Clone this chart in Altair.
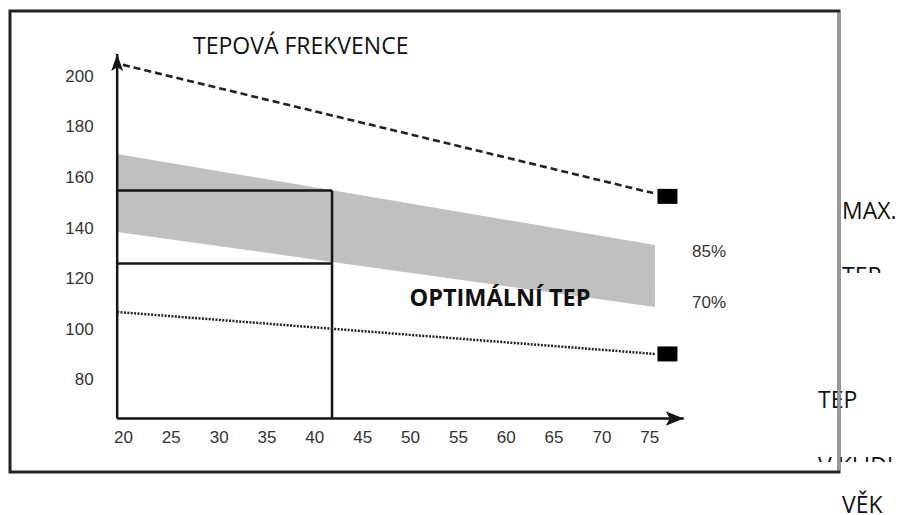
import altair as alt
import pandas as pd

# ---------------- data ----------------
tick_ages = [20, 25, 30, 35, 40, 45, 50, 55, 60, 65, 70, 75]
tick_hr = [80, 100, 120, 140, 160, 180, 200]

band_age = [19.4, 75.6]
band_85 = [169.3, 133.3]       # upper edge of the optimal zone (85 %)
band_70 = [138.4, 108.8]       # lower edge of the optimal zone (70 %)

max_age = [20.0, 75.4]
max_hr = [204.5, 153.8]        # maximum heart rate (dashed)

rest_age = [19.4, 75.6]
rest_hr = [106.8, 90.2]        # resting heart rate (dotted)

marker_age = [76.9, 76.9]
marker_hr = [152.5, 90.2]

zone_age = [19.4, 41.85]       # example box: age 20 .. 42
zone_hr = [126.0, 154.8]

axis_age = [19.4, 78.6]        # drawn axes with arrow heads
axis_hr = [64.7, 208.8]

# ---------------- layout (pixels) ----------------
W, H = 889, 507
PX_PER_YEAR, X_AT_47_5 = 9.57, 378.1
PX_PER_BPM, Y_AT_140 = 2.529, 220.0
x_dom = [47.5 - X_AT_47_5 / PX_PER_YEAR, 47.5 + (W - X_AT_47_5) / PX_PER_YEAR]
y_dom = [140 - (H - Y_AT_140) / PX_PER_BPM, 140 + Y_AT_140 / PX_PER_BPM]

x_axis_px = Y_AT_140 - (axis_hr[0] - 140) * PX_PER_BPM
y_axis_px = X_AT_47_5 + (axis_age[0] - 47.5) * PX_PER_YEAR

xs = alt.Scale(domain=x_dom, nice=False, zero=False)
ys = alt.Scale(domain=y_dom, nice=False, zero=False)

x_axis = alt.Axis(values=tick_ages, title=None, grid=False, domain=False, ticks=False,
                  tickSize=0, offset=-(H - x_axis_px), labelPadding=19,
                  labelBaseline="middle", labelFont="Liberation Sans", labelFontSize=17,
                  labelColor="#333333", labelFlush=False, labelOverlap=False)
y_axis = alt.Axis(values=tick_hr, title=None, grid=False, domain=False, ticks=False,
                  tickSize=0, offset=-y_axis_px, labelPadding=24,
                  labelFont="Liberation Sans", labelFontSize=17,
                  labelColor="#333333", labelFlush=False, labelOverlap=False)


def X(f):
    return alt.X(f, type="quantitative", scale=xs, axis=x_axis)


def Y(f):
    return alt.Y(f, type="quantitative", scale=ys, axis=y_axis)


INK = "#151515"

band = alt.Chart(pd.DataFrame({"age": band_age, "hi": band_85, "lo": band_70})).mark_area(
    color="#c0c0c0", opacity=1
).encode(x=X("age"), y=Y("hi"), y2=alt.Y2("lo"))

zone_h = alt.Chart(pd.DataFrame({"a1": [zone_age[0]] * 2, "a2": [zone_age[1]] * 2, "hr": zone_hr})).mark_rule(
    color=INK, strokeWidth=2.5
).encode(x=X("a1"), x2=alt.X2("a2"), y=Y("hr"))

zone_v = alt.Chart(pd.DataFrame({"age": [zone_age[1]], "h1": [axis_hr[0]], "h2": [zone_hr[1]]})).mark_rule(
    color=INK, strokeWidth=2.5
).encode(x=X("age"), y=Y("h1"), y2=alt.Y2("h2"))

max_line = alt.Chart(pd.DataFrame({"age": max_age, "hr": max_hr})).mark_line(
    color="#222222", strokeWidth=2.6, strokeDash=[7, 4]
).encode(x=X("age"), y=Y("hr"))

rest_line = alt.Chart(pd.DataFrame({"age": rest_age, "hr": rest_hr})).mark_line(
    color="#222222", strokeWidth=2.5, strokeDash=[2, 1.4]
).encode(x=X("age"), y=Y("hr"))

markers = alt.Chart(pd.DataFrame({"age": marker_age, "hr": marker_hr})).mark_point(
    shape="M-1,-0.75L1,-0.75L1,0.75L-1,0.75Z", size=400, filled=True, color="#000000", opacity=1
).encode(x=X("age"), y=Y("hr"))

y_line = alt.Chart(pd.DataFrame({"age": [axis_age[0]], "h1": [axis_hr[0]], "h2": [axis_hr[1]]})).mark_rule(
    color=INK, strokeWidth=2.5
).encode(x=X("age"), y=Y("h1"), y2=alt.Y2("h2"))

x_line = alt.Chart(pd.DataFrame({"a1": [axis_age[0]], "a2": [axis_age[1]], "hr": [axis_hr[0]]})).mark_rule(
    color=INK, strokeWidth=2.5
).encode(x=X("a1"), x2=alt.X2("a2"), y=Y("hr"))

arrow_up = alt.Chart(pd.DataFrame({"age": [axis_age[0]], "hr": [axis_hr[1]]})).mark_point(
    shape="M0,-1L0.7,1L0,0.55L-0.7,1Z", size=289, filled=True, color=INK, opacity=1, yOffset=8.5
).encode(x=X("age"), y=Y("hr"))

arrow_right = alt.Chart(pd.DataFrame({"age": [axis_age[1]], "hr": [axis_hr[0]]})).mark_point(
    shape="M1,0L-1,-0.8L-0.55,0L-1,0.8Z", size=324, filled=True, color=INK, opacity=1, xOffset=-9
).encode(x=X("age"), y=Y("hr"))

one = pd.DataFrame({"k": [0]})


def label(text, x, y, size=23, weight="normal", align="left", baseline="alphabetic",
          font="Open Sans", color="#111111"):
    return alt.Chart(one).mark_text(
        text=text, font=font, fontSize=size, fontWeight=weight, align=align,
        baseline=baseline, color=color
    ).encode(x=alt.value(x), y=alt.value(y))


texts = [
    label("TEPOVÁ FREKVENCE", 185, 46),
    label("OPTIMÁLNÍ TEP", 492, 298, size=23.5, weight="bold", align="center"),
    label("85%", 701, 244, size=17, align="center", baseline="middle",
          font="Liberation Sans", color="#333333"),
    label("70%", 701, 295, size=17, align="center", baseline="middle",
          font="Liberation Sans", color="#333333"),
    label("MAX.", 834, 211),
    label("TEP", 834, 276),
    label("TEP", 810, 400),
    label("V KLIDU", 810, 466),
    label("VĚK", 834, 505),
]


def white(x1, x2, y1, y2):
    return alt.Chart(one).mark_rect(color="white", opacity=1).encode(
        x=alt.value(x1), x2=alt.value(x2), y=alt.value(y1), y2=alt.value(y2))


masks = [white(831, W, 265, 300), white(806, W, 454, 482)]

frame = alt.Chart(one).mark_rect(fill=None, stroke="#222222", strokeWidth=3).encode(
    x=alt.value(2), x2=alt.value(831), y=alt.value(3), y2=alt.value(464))
frame_right = alt.Chart(one).mark_rule(color="#9a9a9a", strokeWidth=3.2).encode(
    x=alt.value(831), y=alt.value(4.5), y2=alt.value(462.5))

chart = alt.layer(
    band, zone_h, zone_v, max_line, rest_line, markers,
    y_line, x_line, arrow_up, arrow_right,
    *texts, *masks, frame, frame_right
).properties(
    width=W, height=H, autosize=alt.AutoSizeParams(type="none"), padding=0
).configure_view(stroke=None)

chart.save("out.html", embed_options={"renderer": "svg", "actions": False})
